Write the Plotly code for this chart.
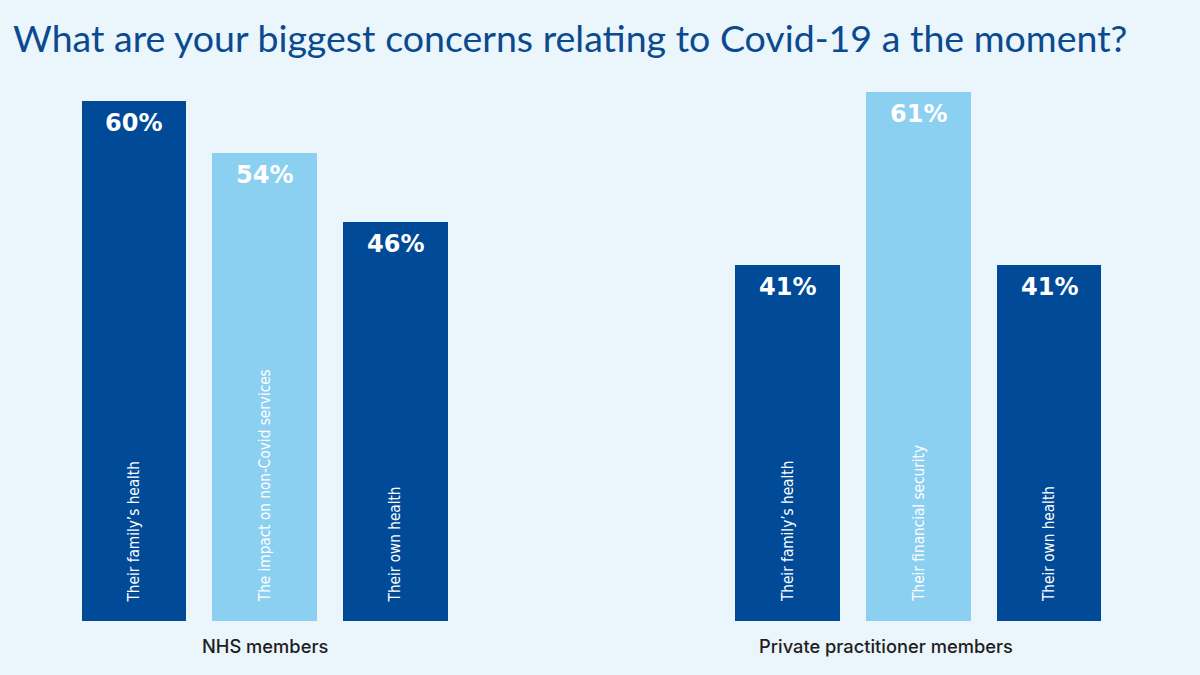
import plotly.graph_objects as go

title_text = "What are your biggest concerns relating to Covid-19 a the moment?"
groups = ["NHS members", "Private practitioner members"]
nhs_categories = ["Their family’s health", "The impact on non-Covid services", "Their own health"]
nhs_values = [60, 54, 46]
private_categories = ["Their family’s health", "Their financial security", "Their own health"]
private_values = [41, 61, 41]

DARK = "#004A98"
LIGHT = "#8BCFF1"
BG = "#EAF5FC"
colors = [DARK, LIGHT, DARK]
group_label_xshift = [0, -32]

fig = go.Figure()
annotations = []
group_data = [(nhs_categories, nhs_values), (private_categories, private_values)]
for g, (cats, vals) in enumerate(group_data):
    xs = [g * 5 + i for i in range(len(cats))]
    fig.add_trace(go.Bar(
        x=xs, y=vals, width=0.8,
        marker=dict(color=colors, line=dict(width=0)),
        hoverinfo="skip", showlegend=False,
    ))
    for x, c, v in zip(xs, cats, vals):
        annotations.append(dict(
            x=x, y=v, xref="x", yref="y", text=f"{v}%", showarrow=False,
            yanchor="middle", xanchor="center", yshift=-22,
            font=dict(family="DejaVu Sans", size=24, color="white", weight="bold"),
        ))
        annotations.append(dict(
            x=x, y=0, xref="x", yref="y", text=c, showarrow=False,
            yanchor="bottom", xanchor="center", yshift=17, textangle=-90,
            font=dict(family="DejaVu Sans Condensed", size=15.2, color="white"),
        ))
    annotations.append(dict(
        x=xs[1], y=0, xref="x", yref="y", text=groups[g], showarrow=False,
        yanchor="middle", xanchor="center", yshift=-25, xshift=group_label_xshift[g],
        font=dict(family="Inter", size=18.3, color="#1E1E1E", weight=500),
    ))

annotations.append(dict(
    x=11 / 1200, y=1 + (14 - 38) / 607, xref="paper", yref="paper", text=title_text,
    showarrow=False, xanchor="left", yanchor="middle",
    font=dict(family="Lato", size=37.5, color="#0B4A8E"),
))

fig.update_layout(
    width=1200, height=675,
    paper_bgcolor=BG, plot_bgcolor=BG,
    margin=dict(l=0, r=0, t=14, b=54),
    xaxis=dict(range=[-1.025, 8.155], visible=False, fixedrange=True),
    yaxis=dict(range=[0, 70], visible=False, fixedrange=True),
    annotations=annotations,
    bargap=0,
)
fig.write_html(
    "out.html",
    config={"displayModeBar": False},
    post_script="document.body.style.margin='0';document.body.style.background='#EAF5FC';",
)
